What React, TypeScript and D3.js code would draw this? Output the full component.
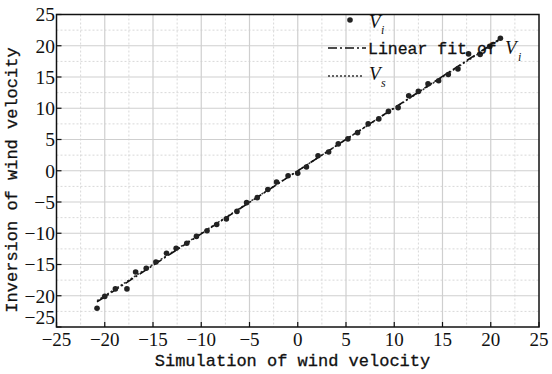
import React from "react";
import * as d3 from "d3";

const simX = [-20.8, -20.0, -18.9, -17.7, -16.8, -15.7, -14.7, -13.6, -12.6, -11.5, -10.5, -9.4, -8.4, -7.4, -6.3, -5.3, -4.2, -3.1, -2.2, -1.0, 0.0, 0.9, 2.1, 3.2, 4.2, 5.2, 6.2, 7.3, 8.4, 9.4, 10.4, 11.5, 12.5, 13.5, 14.6, 15.6, 16.6, 17.7, 18.9, 19.9, 21.0];
const invY = [-22.0, -20.1, -18.9, -18.9, -16.2, -15.6, -14.6, -13.2, -12.4, -11.6, -10.5, -9.6, -8.6, -7.7, -6.5, -5.1, -4.3, -3.0, -1.8, -0.8, -0.4, 0.6, 2.4, 3.0, 4.3, 5.1, 6.1, 7.5, 8.3, 9.5, 10.1, 12.0, 12.7, 13.9, 14.4, 15.4, 16.3, 18.7, 18.6, 19.9, 21.2];
const majorTicks = [-25, -20, -15, -10, -5, 0, 5, 10, 15, 20, 25];
const minorTicks = [-22.5, -17.5, -12.5, -7.5, -2.5, 2.5, 7.5, 12.5, 17.5, 22.5];
const xTitle = "Simulation of wind velocity";
const yTitle = "Inversion of wind velocity";
const fitLabel = "Linear fit of";

const W = 552, H = 374;
const L = 56.5, R = 539, T = 14.5, B = 327;

export default function App() {
  const x = d3.scaleLinear().domain([-25, 25]).range([L, R]);
  const y = d3.scaleLinear().domain([-25, 25]).range([B, T]);
  const n = simX.length;
  const mx = d3.mean(simX) as number, my = d3.mean(invY) as number;
  let sxy = 0, sxx = 0;
  for (let i = 0; i < n; i++) { sxy += (simX[i] - mx) * (invY[i] - my); sxx += (simX[i] - mx) ** 2; }
  const slope = sxy / sxx, icpt = my - slope * mx;
  const x0 = d3.min(simX) as number, x1 = d3.max(simX) as number;
  const line = d3.line<[number, number]>().x(d => x(d[0])).y(d => y(d[1]));
  const fit = line([[x0, slope * x0 + icpt], [x1, slope * x1 + icpt]]) as string;
  const ident = line([[x0, x0], [x1, x1]]) as string;
  const mono = "'Liberation Mono', monospace";
  const serif = "'Liberation Serif', 'Times New Roman', serif";
  const fmt = (t: number) => (t < 0 ? "\u2212" + Math.abs(t) : String(t));
  return (
    <svg width={W} height={H} style={{ position: "absolute", left: 0, top: 0, background: "#fff" }}>
      <rect x={0} y={0} width={W} height={H} fill="#fff" />
      {minorTicks.map(t => (
        <g key={"m" + t}>
          <line x1={x(t)} x2={x(t)} y1={T} y2={B} stroke="#d8d8d8" strokeWidth={1} strokeDasharray="2,2" />
          <line x1={L} x2={R} y1={y(t)} y2={y(t)} stroke="#d8d8d8" strokeWidth={1} strokeDasharray="2,2" />
        </g>
      ))}
      {majorTicks.filter(t => t > -25 && t < 25).map(t => (
        <g key={"g" + t}>
          <line x1={x(t)} x2={x(t)} y1={T} y2={B} stroke="#cfcfcf" strokeWidth={1.2} />
          <line x1={L} x2={R} y1={y(t)} y2={y(t)} stroke="#cfcfcf" strokeWidth={1.2} />
        </g>
      ))}
      <rect x={L} y={T} width={R - L} height={B - T} fill="none" stroke="#111" strokeWidth={1.5} />
      {majorTicks.map(t => (
        <g key={"t" + t}>
          <line x1={x(t)} x2={x(t)} y1={B} y2={B - 5} stroke="#111" strokeWidth={1.2} />
          <line x1={L} x2={L + 5} y1={y(t)} y2={y(t)} stroke="#111" strokeWidth={1.2} />
          <text x={x(t)} y={346} textAnchor="middle" fontFamily={serif} fontSize={19} fill="#111">
            {fmt(t)}
          </text>
          <text x={55} y={t === -25 ? y(t) - 10 : y(t)} dy="0.35em" textAnchor="end" fontFamily={serif} fontSize={19.5} fill="#111">
            {fmt(t)}
          </text>
        </g>
      ))}
      <path d={ident} fill="none" stroke="#333" strokeWidth={1.5} strokeDasharray="2,2" />
      <path d={fit} fill="none" stroke="#111" strokeWidth={1.6} strokeDasharray="9,3,2,3" />
      {simX.map((v, i) => (
        <circle key={"p" + i} cx={x(v)} cy={y(invY[i])} r={2.8} fill="#222" />
      ))}
      <text x={292.5} y={366} textAnchor="middle" fontFamily={mono} fontSize={17} fill="#111" stroke="#111" strokeWidth={0.3}>{xTitle}</text>
      <text transform={`translate(17,180) rotate(-90)`} textAnchor="middle" fontFamily={mono} fontSize={17} fill="#111" stroke="#111" strokeWidth={0.3}>{yTitle}</text>
      {/* legend */}
      <circle cx={350} cy={20} r={2.8} fill="#222" />
      <text x={369} y={28} fontFamily={serif} fontSize={19} fontStyle="italic" fill="#111">V</text>
      <text x={381} y={34} fontFamily={serif} fontSize={12} fontStyle="italic" fill="#111">i</text>
      <line x1={328} x2={366} y1={48} y2={48} stroke="#111" strokeWidth={1.6} strokeDasharray="9,3,2,3" />
      <text x={368} y={54} fontFamily={mono} fontSize={16.5} fill="#111" stroke="#111" strokeWidth={0.3}>{fitLabel}</text>
      <text x={505} y={54} fontFamily={serif} fontSize={19} fontStyle="italic" fill="#111">V</text>
      <text x={518} y={61} fontFamily={serif} fontSize={12} fontStyle="italic" fill="#111">i</text>
      <line x1={328} x2={363} y1={76} y2={76} stroke="#333" strokeWidth={1.5} strokeDasharray="2,2" />
      <text x={369} y={80} fontFamily={serif} fontSize={19} fontStyle="italic" fill="#111">V</text>
      <text x={381} y={87} fontFamily={serif} fontSize={12} fontStyle="italic" fill="#111">s</text>
    </svg>
  );
}
